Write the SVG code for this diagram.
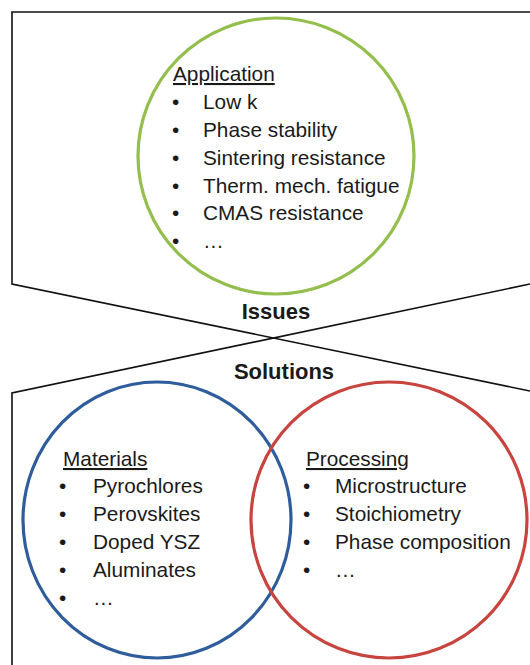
<svg xmlns="http://www.w3.org/2000/svg" width="530" height="665" viewBox="0 0 530 665">
<style>
.t{font-family:"Liberation Sans",Arial,sans-serif;font-size:20.8px;fill:#1a1a1a}
.h{text-decoration:underline}
.b{font-family:"Liberation Sans",Arial,sans-serif;font-size:22px;font-weight:bold;fill:#1a1a1a;text-anchor:middle}
.ln{fill:none;stroke:#111;stroke-width:1.6}
.c{fill:none;stroke-width:3.2}
</style>
<rect width="530" height="665" fill="#fff"/>
<g id="connectors">
<path class="ln" d="M530,12 H12 V284 L530,391"/>
<path class="ln" d="M530,284 L12,393 V665"/>
</g>
<g id="application">
<circle class="c" cx="276" cy="156" r="138" stroke="#94bf4e"/>
<text class="t h" x="173" y="81">Application</text>
<g class="t">
<text x="172" y="109">•</text><text x="203" y="109">Low k</text>
<text x="172" y="137">•</text><text x="203" y="137">Phase stability</text>
<text x="172" y="165">•</text><text x="203" y="165">Sintering resistance</text>
<text x="172" y="193">•</text><text x="203" y="193">Therm. mech. fatigue</text>
<text x="172" y="220">•</text><text x="203" y="220">CMAS resistance</text>
<text x="172" y="248">•</text><text x="203" y="248">…</text>
</g>
</g>
<g id="issues"><text class="b" x="276" y="319">Issues</text></g>
<g id="solutions"><text class="b" x="284" y="379">Solutions</text></g>
<g id="materials">
<ellipse class="c" cx="157" cy="520" rx="134" ry="138" stroke="#2f5d9c"/>
<text class="t h" x="63" y="466">Materials</text>
<g class="t">
<text x="59" y="493">•</text><text x="93" y="493">Pyrochlores</text>
<text x="59" y="521">•</text><text x="93" y="521">Perovskites</text>
<text x="59" y="549">•</text><text x="93" y="549">Doped YSZ</text>
<text x="59" y="577">•</text><text x="93" y="577">Aluminates</text>
<text x="59" y="605">•</text><text x="93" y="605">…</text>
</g>
</g>
<g id="processing">
<circle class="c" cx="389" cy="520" r="138" stroke="#c8443f"/>
<text class="t h" x="306" y="466">Processing</text>
<g class="t">
<text x="303" y="493">•</text><text x="335" y="493">Microstructure</text>
<text x="303" y="521">•</text><text x="335" y="521">Stoichiometry</text>
<text x="303" y="549">•</text><text x="335" y="549">Phase composition</text>
<text x="303" y="577">•</text><text x="335" y="577">…</text>
</g>
</g>
</svg>
